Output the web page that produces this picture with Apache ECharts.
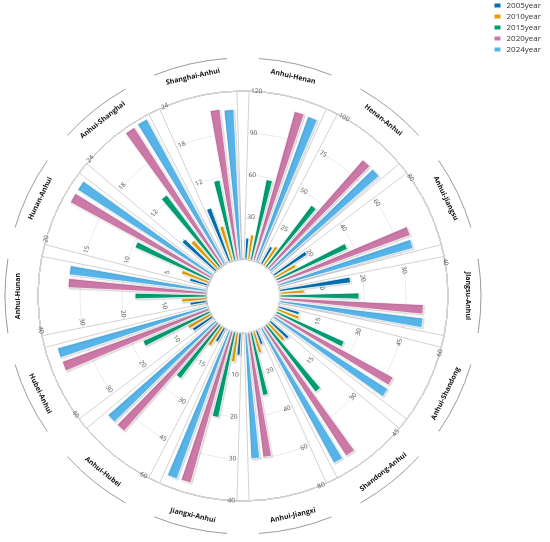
<!DOCTYPE html>
<html>
<head>
<meta charset="utf-8">
<script src="https://cdn.jsdelivr.net/npm/echarts@6/dist/echarts.min.js"></script>
<style>
  html, body { margin: 0; padding: 0; background: #fff; }
  #chart { width: 550px; height: 542px; }
</style>
</head>
<body>
<div id="chart"></div>
<script>
const routes = ['Anhui-Henan', 'Henan-Anhui', 'Anhui-Jiangsu', 'Jiangsu-Anhui', 'Anhui-Shandong', 'Shandong-Anhui',
  'Anhui-Jiangxi', 'Jiangxi-Anhui', 'Anhui-Hubei', 'Hubei-Anhui', 'Anhui-Hunan', 'Hunan-Anhui',
  'Anhui-Shanghai', 'Shanghai-Anhui']
const years = ['2005year', '2010year', '2015year', '2020year', '2024year']

// radial scale of every sector
const axisMax = [120, 100, 80, 40, 60, 45, 80, 40, 60, 40, 40, 20, 24, 24]
const axisStep = [30, 25, 20, 10, 15, 15, 20, 10, 15, 10, 10, 5, 6, 6]

const v2005 = [15, 11.6, 18.7, 17, 7.7, 6.5, 7, 5.3, 5.5, 5.5, 3.9, 2.2, 6.3, 8.1]
const v2010 = [17.6, 13.3, 11.2, 5.8, 8.2, 6.1, 10.5, 7, 8, 6.1, 5.8, 3.4, 5.3, 5.1]
const v2015 = [58.4, 45.6, 36.9, 18.8, 26.4, 22.3, 30.7, 20.7, 23.7, 17.3, 16.9, 9.7, 12.8, 11.6]
const v2020 = [110.5, 86, 67.1, 34.2, 47.8, 41.1, 59.8, 37.4, 51.1, 37, 32.9, 19, 23.4, 21.6]
const v2024 = [110, 86, 66.5, 34.4, 48.3, 41.1, 60, 37.5, 51.1, 37.1, 32.9, 19, 23.5, 21.4]
const yearValues = [v2005, v2010, v2015, v2020, v2024]

const colors = ['#0072B2', '#E69F00', '#009E73', '#CC79A7', '#56B4E9']

const center = [243, 296]
const innerR = 37
const outerR = 205
const nameR = 225
const arcR = 238
const step = 360 / routes.length
const gap = 3.4
const rad = Math.PI / 180

const chart = echarts.init(document.getElementById('chart'))

const polar = []
const angleAxis = []
const radiusAxis = []
const series = []
const graphic = []

routes.forEach((route, i) => {
  // angles measured clockwise from 12 o'clock
  const from = i * step + gap / 2
  const to = (i + 1) * step - gap / 2
  const mid = (i + 0.5) * step

  let rot = -from
  let flipped = false
  if (from > 90 && from < 270) { rot += 180; flipped = true }
  else if (from >= 270) rot += 360

  polar.push({ center: center, radius: [innerR, outerR] })

  angleAxis.push({
    polarIndex: i,
    type: 'category',
    data: [route],
    startAngle: 90 - from,
    endAngle: 90 - to,
    clockwise: true,
    boundaryGap: true,
    axisLine: { show: true, lineStyle: { color: '#d2d2d2', width: 1 } },
    axisTick: { show: false },
    axisLabel: { show: false },
    splitLine: { show: true, lineStyle: { color: '#d2d2d2', width: 1 } }
  })

  radiusAxis.push({
    polarIndex: i,
    type: 'value',
    min: 0,
    max: axisMax[i],
    interval: axisStep[i],
    axisLine: { show: false },
    axisTick: { show: false },
    axisLabel: {
      rotate: rot,
      margin: -2,
      align: flipped ? 'right' : 'left',
      verticalAlign: 'middle',
      fontSize: 6.5,
      color: '#555',
      fontFamily: 'Open Sans',
      showMinLabel: false,
      hideOverlap: false
    },
    splitLine: { show: true, lineStyle: { color: '#ebebeb', width: 1 } }
  })

  years.forEach((year, k) => {
    series.push({
      name: year,
      type: 'bar',
      coordinateSystem: 'polar',
      polarIndex: i,
      data: [yearValues[k][i]],
      barGap: '40%',
      barCategoryGap: '10%',
      itemStyle: {
        color: colors[k],
        borderColor: '#fff',
        borderWidth: 0.8,
        shadowColor: 'rgba(0,0,0,0.16)',
        shadowBlur: 1.5,
        shadowOffsetX: 1,
        shadowOffsetY: 1
      }
    })
  })

  // sector caption and the arc above it
  let textRot = -mid
  if (mid > 90.5 && mid < 269.5) textRot += 180
  graphic.push({
    type: 'text',
    x: center[0] + nameR * Math.sin(mid * rad),
    y: center[1] - nameR * Math.cos(mid * rad),
    rotation: textRot * rad,
    style: {
      text: route,
      fill: '#111',
      font: 'bold 7px "Open Sans"',
      align: 'center',
      verticalAlign: 'middle'
    },
    silent: true
  })
  graphic.push({
    type: 'arc',
    shape: {
      cx: center[0],
      cy: center[1],
      r: arcR,
      startAngle: (mid - 9 - 90) * rad,
      endAngle: (mid + 9 - 90) * rad,
      clockwise: true
    },
    style: { stroke: '#9a9a9a', lineWidth: 1, fill: 'none' },
    silent: true
  })
})

const option = {
  animation: false,
  color: colors,
  legend: {
    data: years,
    orient: 'vertical',
    right: 4,
    top: -4,
    align: 'left',
    icon: 'rect',
    itemWidth: 8,
    itemHeight: 6,
    itemGap: 2,
    textStyle: { fontSize: 8, color: '#333', fontFamily: 'Open Sans', lineHeight: 9 }
  },
  polar: polar,
  angleAxis: angleAxis,
  radiusAxis: radiusAxis,
  series: series,
  graphic: graphic
}

chart.setOption(option)
</script>
</body>
</html>
